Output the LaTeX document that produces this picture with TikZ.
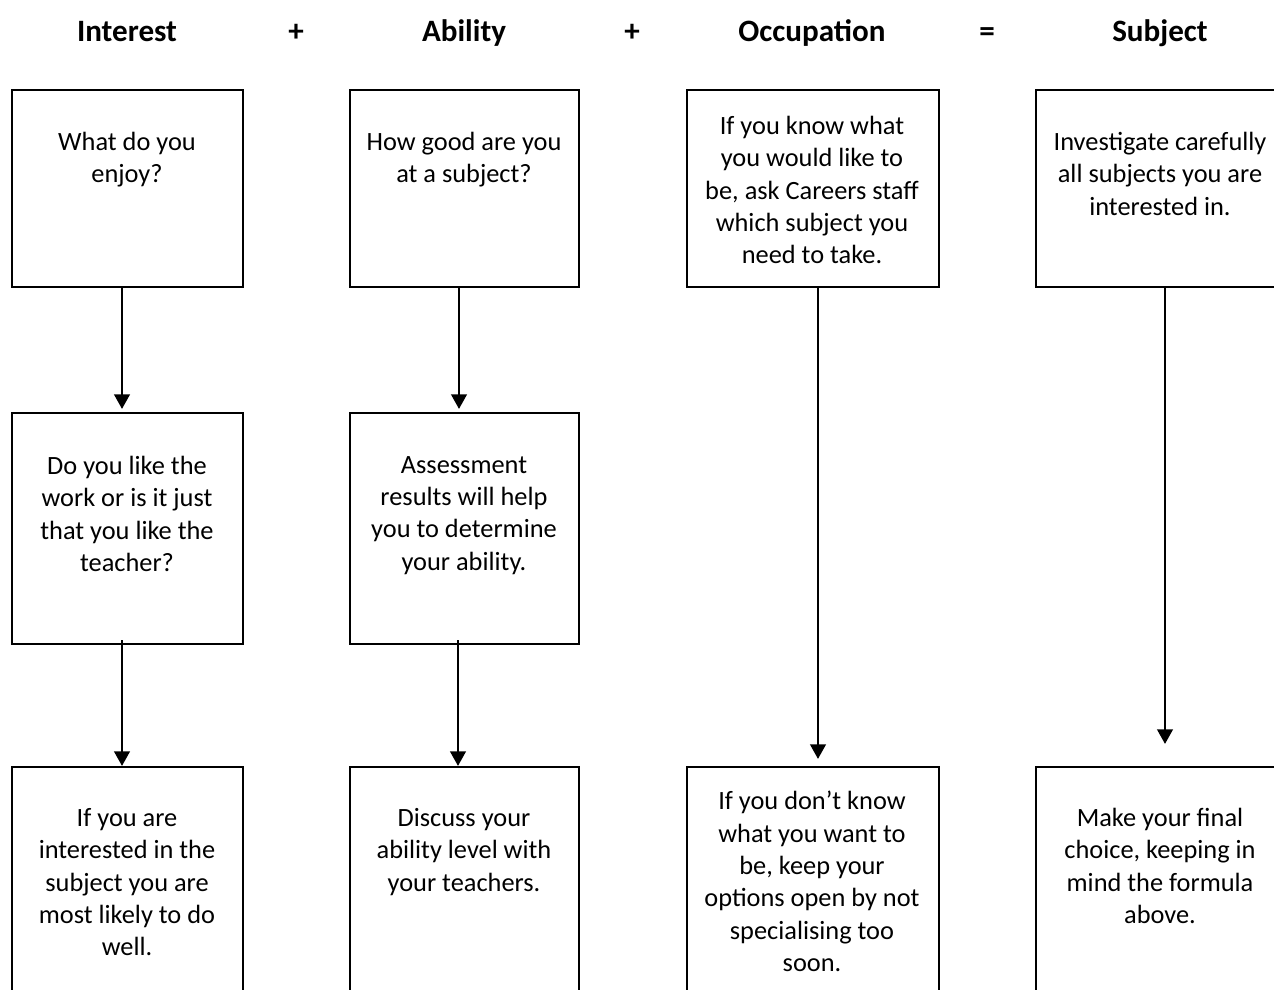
\documentclass[tikz,border=0pt]{standalone}
\usepackage{fontspec}
\setmainfont{Carlito}
\usetikzlibrary{arrows.meta}
\tikzset{
  card/.style={draw, line width=1.2pt, rectangle, inner sep=0pt},
  cardtext/.style={anchor=north, inner sep=0pt, align=center, font=\fontsize{15pt}{18.4pt}\selectfont},
  head/.style={anchor=base, inner sep=0pt, font=\fontsize{17.7pt}{21pt}\selectfont\bfseries},
  flow/.style={line width=1.3pt, -{Triangle[width=3.1mm,length=2.9mm]}}
}
\begin{document}
\begin{tikzpicture}[x=0.2mm, y=-0.2mm]
  \useasboundingbox (0,0) rectangle (1274,990);
  \clip (0,0) rectangle (1274,990);

  % headings
  \node[head] (hint) at (127,42) {Interest};
  \node[head] (p1) at (296,42) {+};
  \node[head] (habl) at (464,42) {Ability};
  \node[head] (p2) at (632,42) {+};
  \node[head] (hocc) at (812,42) {Occupation};
  \node[head] (eq) at (987,42) {=};
  \node[head] (hsub) at (1160,42) {Subject};

  % boxes
  \node[card, minimum width=46.2mm, minimum height=39.4mm] (int1) at (127.5,188.5) {};
  \node[card, minimum width=46.2mm, minimum height=46.2mm] (int2) at (127.5,528.5) {};
  \node[card, minimum width=46.2mm, minimum height=46.2mm] (int3) at (127.5,882.5) {};
  \node[card, minimum width=45.8mm, minimum height=39.4mm] (abl1) at (464.5,188.5) {};
  \node[card, minimum width=45.8mm, minimum height=46.2mm] (abl2) at (464.5,528.5) {};
  \node[card, minimum width=45.8mm, minimum height=46.2mm] (abl3) at (464.5,882.5) {};
  \node[card, minimum width=50.4mm, minimum height=39.4mm] (occ1) at (813,188.5) {};
  \node[card, minimum width=50.4mm, minimum height=46.2mm] (occ3) at (813,882.5) {};
  \node[card, minimum width=50.4mm, minimum height=39.4mm] (sub1) at (1162,188.5) {};
  \node[card, minimum width=50.4mm, minimum height=46.2mm] (sub3) at (1162,882.5) {};

  % texts
  \node[cardtext] (tint1) at (127,132) {What do you\\enjoy?};
  \node[cardtext] (tint2) at (127,456) {Do you like the\\work or is it just\\that you like the\\teacher?};
  \node[cardtext] (tint3) at (127,808) {If you are\\interested in the\\subject you are\\most likely to do\\well.};
  \node[cardtext] (tabl1) at (464,132) {How good are you\\at a subject?};
  \node[cardtext] (tabl2) at (464,456) {Assessment\\results will help\\you to determine\\your ability.};
  \node[cardtext] (tabl3) at (464,808) {Discuss your\\ability level with\\your teachers.};
  \node[cardtext] (tocc1) at (812,116) {If you know what\\you would like to\\be, ask Careers staff\\which subject you\\need to take.};
  \node[cardtext] (tocc3) at (812,791) {If you don’t know\\what you want to\\be, keep your\\options open by not\\specialising too\\soon.};
  \node[cardtext] (tsub1) at (1160,132) {Investigate carefully\\all subjects you are\\interested in.};
  \node[cardtext] (tsub3) at (1160,808) {Make your final\\choice, keeping in\\mind the formula\\above.};

  % arrows
  \draw[flow, shorten >=0.6mm] ([xshift=-1.1mm]int1.south) -- ([xshift=-1.1mm]int2.north);
  \draw[flow, shorten <=-1mm] ([xshift=-1.1mm]int2.south) -- ([xshift=-1.1mm]int3.north);
  \draw[flow, shorten >=0.6mm] ([xshift=-1.1mm]abl1.south) -- ([xshift=-1.1mm]abl2.north);
  \draw[flow, shorten <=-1mm] ([xshift=-1.3mm]abl2.south) -- ([xshift=-1.3mm]abl3.north);
  \draw[flow, shorten >=1.4mm] ([xshift=1mm]occ1.south) -- ([xshift=1mm]occ3.north);
  \draw[flow, shorten >=4.4mm] ([xshift=0.6mm]sub1.south) -- ([xshift=0.6mm]sub3.north);
\end{tikzpicture}
\end{document}
